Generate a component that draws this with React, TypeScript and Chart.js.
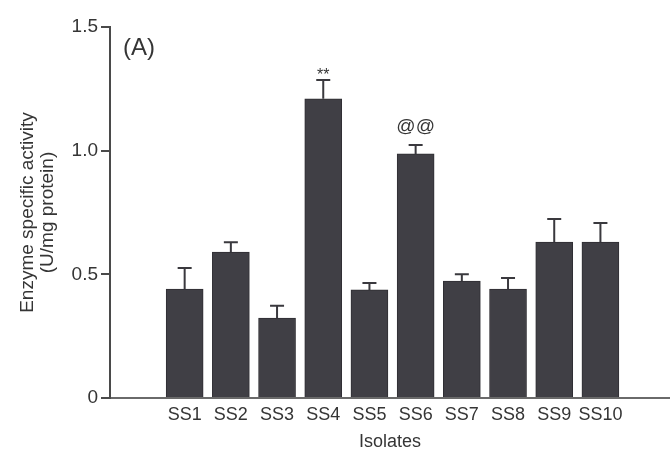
import React, { useEffect, useRef } from "react";
import { Chart, registerables } from "chart.js";

Chart.register(...registerables);

const categories = ["SS1", "SS2", "SS3", "SS4", "SS5", "SS6", "SS7", "SS8", "SS9", "SS10"];
const values = [0.44, 0.59, 0.323, 1.21, 0.437, 0.987, 0.473, 0.44, 0.63, 0.63];
const errors = [0.086, 0.04, 0.05, 0.076, 0.028, 0.036, 0.027, 0.045, 0.094, 0.078];
const marks = ["", "", "", "**", "", "@@", "", "", "", ""];
const yTicks = [0, 0.5, 1.0, 1.5];
const yTickLabels = ["0", "0.5", "1.0", "1.5"];
const panelLabel = "(A)";
const xTitle = "Isolates";
const yTitle = ["Enzyme specific activity", "(U/mg protein)"];

const FONT = "'Liberation Sans', Arial, sans-serif";
const TEXT = "#353535";
const BAR = "#403f45";

const overlayPlugin = {
  id: "overlay",
  afterDatasetsDraw(chart: any) {
    const { ctx, scales, chartArea } = chart;
    const xs = scales.x;
    const ys = scales.y;
    ctx.save();
    ctx.strokeStyle = "#3a393e";
    ctx.lineWidth = 2;
    values.forEach((v, i) => {
      const x = xs.getPixelForValue(i);
      const y1 = ys.getPixelForValue(v);
      const y2 = ys.getPixelForValue(v + errors[i]);
      ctx.beginPath();
      ctx.moveTo(x, y1);
      ctx.lineTo(x, y2);
      ctx.moveTo(x - 7, y2);
      ctx.lineTo(x + 7, y2);
      ctx.stroke();
      const m = marks[i];
      if (m) {
        ctx.fillStyle = TEXT;
        ctx.textAlign = "center";
        ctx.textBaseline = "alphabetic";
        if (m === "**") {
          ctx.font = `16px ${FONT}`;
          ctx.fillText(m, x, y2 - 0);
        } else {
          ctx.font = `19px ${FONT}`;
          ctx.fillText(m, x, y2 - 13);
        }
      }
    });
    ctx.fillStyle = TEXT;
    ctx.font = `24px ${FONT}`;
    ctx.textAlign = "left";
    ctx.textBaseline = "middle";
    ctx.fillText(panelLabel, chartArea.left + 13, chartArea.top + 21);
    ctx.restore();
  },
};

export default function App() {
  const ref = useRef<HTMLCanvasElement | null>(null);
  useEffect(() => {
    if (!ref.current) return;
    const chart = new Chart(ref.current, {
      type: "bar",
      data: {
        datasets: [
          {
            data: values.map((v, i) => ({ x: i, y: v })),
            backgroundColor: BAR,
            borderColor: "#2f2e33",
            borderWidth: 1,
            barThickness: 37,
          },
        ],
      },
      options: {
        animation: false,
        responsive: false,
        layout: { padding: { left: 18, top: 27, right: 0, bottom: 0 } },
        plugins: { legend: { display: false }, tooltip: { enabled: false } },
        scales: {
          x: {
            type: "linear",
            min: -1.01,
            max: 9.9,
            afterBuildTicks: (s: any) => {
              s.ticks = categories.map((_, i) => ({ value: i }));
            },
            afterFit: (s: any) => {
              s.height = 55;
            },
            ticks: {
              callback: (_v: any, i: number) => categories[i],
              font: { family: FONT, size: 18 },
              color: TEXT,
              padding: 6,
              maxRotation: 0,
              autoSkip: false,
            },
            grid: { display: true, drawOnChartArea: false, drawTicks: false, color: "transparent" },
            border: { display: true, color: "#6a6a6a", width: 2 },
            title: {
              display: true,
              text: xTitle,
              font: { family: FONT, size: 18 },
              color: TEXT,
              padding: 0,
            },
          },
          y: {
            min: 0,
            max: 1.5,
            afterBuildTicks: (s: any) => {
              s.ticks = yTicks.map((v) => ({ value: v }));
            },
            afterFit: (s: any) => {
              s.width = 92;
            },
            ticks: {
              callback: (_v: any, i: number) => yTickLabels[i],
              font: { family: FONT, size: 19 },
              color: TEXT,
              padding: 3,
            },
            grid: { display: true, drawOnChartArea: false, drawTicks: true, tickLength: 9, color: "#4a4a4a", lineWidth: 2 },
            border: { display: true, color: "#4a4a4a", width: 2 },
            title: {
              display: true,
              text: yTitle,
              font: { family: FONT, size: 19, lineHeight: 1.05 },
              color: TEXT,
              padding: 0,
            },
          },
        },
      },
      plugins: [overlayPlugin],
    } as any);
    return () => chart.destroy();
  }, []);
  return (
    <div style={{ position: "fixed", left: 0, top: 0, width: 670, height: 453, background: "#fff" }}>
      <canvas ref={ref} width={670} height={453} style={{ display: "block" }} />
    </div>
  );
}
